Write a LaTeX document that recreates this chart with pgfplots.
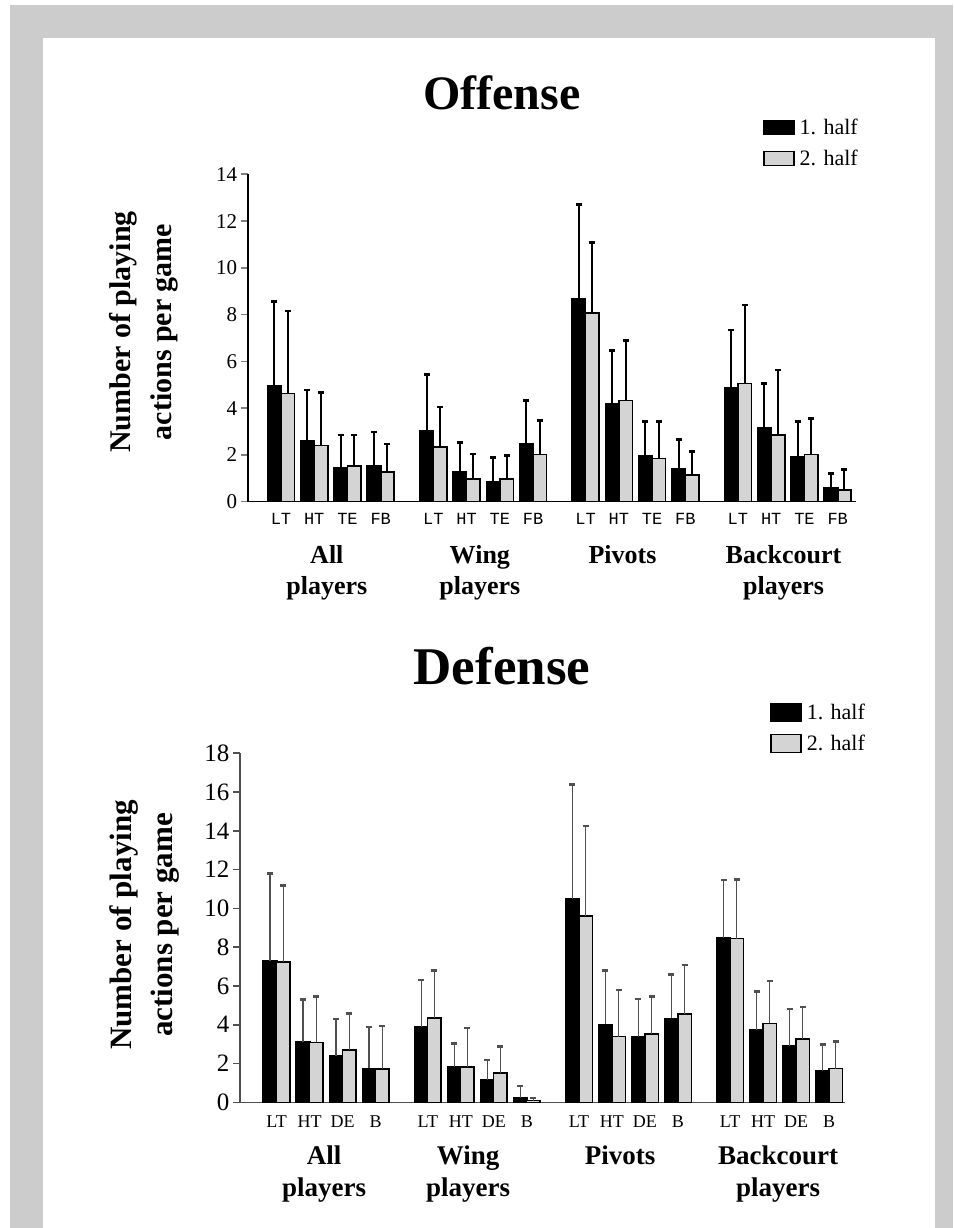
\documentclass[border=0pt]{standalone}
\usepackage{pgfplots}
\pgfplotsset{compat=1.18}
\usepackage{pgfplotstable}
\usepackage{fontspec}
\setmainfont{Liberation Serif}
\newfontfamily\monofont{Liberation Mono}
\definecolor{framegray}{HTML}{CCCCCC}
\definecolor{bargray}{HTML}{D4D4D4}
\definecolor{errgray}{HTML}{505050}

% x: position, y1/e1: 1. half mean / SD, y2/e2: 2. half mean / SD
\pgfplotstableread{
x y1 e1 y2 e2
0 4.95 3.60 4.63 3.53
1 2.61 2.17 2.41 2.27
2 1.47 1.38 1.53 1.32
3 1.53 1.45 1.28 1.19
4.58 3.04 2.39 2.35 1.70
5.58 1.27 1.27 0.96 1.08
6.58 0.83 1.07 0.96 1.02
7.58 2.47 1.85 2.02 1.44
9.16 8.67 4.05 8.06 3.02
10.16 4.18 2.28 4.32 2.57
11.16 1.98 1.44 1.84 1.58
12.16 1.40 1.25 1.14 1.00
13.74 4.89 2.45 5.06 3.35
14.74 3.18 1.88 2.85 2.78
15.74 1.92 1.50 2.02 1.54
16.74 0.58 0.63 0.50 0.88
}\offense

\pgfplotstableread{
x y1 e1 y2 e2
0 7.31 4.50 7.25 3.94
1 3.13 2.18 3.09 2.36
2 2.39 1.91 2.70 1.89
3 1.75 2.12 1.72 2.23
4.58 3.90 2.41 4.35 2.44
5.58 1.81 1.23 1.81 2.01
6.58 1.15 1.03 1.50 1.37
7.58 0.21 0.63 0.09 0.12
9.16 10.49 5.91 9.61 4.64
10.16 4.02 2.77 3.39 2.40
11.16 3.39 1.94 3.52 1.93
12.16 4.33 2.27 4.54 2.54
13.74 8.48 2.99 8.44 3.06
14.74 3.73 1.98 4.07 2.19
15.74 2.92 1.88 3.27 1.63
16.74 1.60 1.39 1.74 1.39
}\defense

\pgfplotsset{
  myaxis/.style={
    scale only axis,
    ybar,
    bar width=13.5pt,
    axis x line*=bottom,
    axis y line*=left,
    axis line style={-, line width=1.6pt},
    ymin=0,
    xtick={0,1,2,3,4.58,5.58,6.58,7.58,9.16,10.16,11.16,12.16,13.74,14.74,15.74,16.74},
    xtick style={draw=none},
    ytick style={line width=1.6pt},
    tick align=outside,
    major tick length=7pt,
    clip=false,
    /pgf/number format/assume math mode=true,
    legend cell align=left,
  },
}

\begin{document}
\begin{tikzpicture}[x=1pt,y=1pt]
\path[use as bounding box] (0,0) rectangle (953,1228);
\fill[white] (0,0) rectangle (953,1228);
\fill[framegray] (10,0) rectangle (953,1223);
\fill[white] (43,0) rectangle (935,1190);

\node[font=\bfseries\fontsize{48}{48}\selectfont] at (502,1135) {Offense};
\node[font=\bfseries\fontsize{53}{53}\selectfont] at (502,562) {Defense};

\node[rotate=90, align=center, font=\bfseries\fontsize{30}{41}\selectfont] at (144,896) {Number of playing\\actions per game};
\node[rotate=90, align=center, font=\bfseries\fontsize{31}{41}\selectfont] at (145,303) {Number of playing\\actions per game};

% ---------------- Offense ----------------
\begin{axis}[myaxis,
  at={(247.7pt,726.3pt)}, anchor=south west,
  width=608.3pt, height=327.4pt,
  xmin=-1.0, xmax=17.29, ymax=14,
  ytick={0,2,...,14},
  xticklabels={LT,HT,TE,FB,LT,HT,TE,FB,LT,HT,TE,FB,LT,HT,TE,FB},
  x tick label style={font=\monofont\fontsize{17}{17}\selectfont, yshift=-1pt},
  y tick label style={font=\fontsize{21}{21}\selectfont},
  legend style={at={(axis description cs:0.847,1.175)}, anchor=north west,
    draw=none, fill=none, inner sep=0pt, row sep=10pt,
    font=\fontsize{22}{22}\selectfont,
    /tikz/every odd column/.append style={column sep=3pt}},
]
\addplot[fill=black, draw=black, line width=1.6pt, bar shift=-6.75pt,
  legend image code/.code={\draw[fill=black,draw=black,line width=1.6pt] (0pt,-7pt) rectangle (30pt,7pt);},
  error bars/.cd, y dir=plus, y explicit,
  error bar style={line width=2pt, black},
  error mark options={rotate=90, line width=2.6pt, mark size=3pt, black}]
  table[x=x, y=y1, y error=e1] {\offense};
\addplot[fill=bargray, draw=black, line width=1.6pt, bar shift=6.75pt,
  legend image code/.code={\draw[fill=bargray,draw=black,line width=1.6pt] (0pt,-7pt) rectangle (30pt,7pt);},
  error bars/.cd, y dir=plus, y explicit,
  error bar style={line width=2pt, black},
  error mark options={rotate=90, line width=2.6pt, mark size=3pt, black}]
  table[x=x, y=y2, y error=e2] {\offense};
\legend{1. half, 2. half}
\begin{scope}[every node/.style={font=\bfseries\fontsize{26}{31}\selectfont, align=center, anchor=north}]
\node at (axis cs:1.38,0) [yshift=-40pt] {All\\players};
\node at (axis cs:5.98,0) [yshift=-40pt] {Wing\\players};
\node at (axis cs:10.27,0) [yshift=-40pt] {Pivots};
\node at (axis cs:15.11,0) [yshift=-40pt] {Backcourt\\players};
\end{scope}
\end{axis}

% ---------------- Defense ----------------
\begin{axis}[myaxis,
  at={(240pt,125.7pt)}, anchor=south west,
  width=605pt, height=349pt,
  xmin=-1.11, xmax=17.22, ymax=18,
  ytick={0,2,...,18},
  axis line style={-, line width=1.6pt, errgray},
  ytick style={line width=1.6pt, errgray},
  xticklabels={LT,HT,DE,B,LT,HT,DE,B,LT,HT,DE,B,LT,HT,DE,B},
  x tick label style={font=\fontsize{18}{18}\selectfont, yshift=-3pt},
  y tick label style={font=\fontsize{25}{25}\selectfont},
  legend style={at={(axis description cs:0.876,1.147)}, anchor=north west,
    draw=none, fill=none, inner sep=0pt, row sep=10pt,
    font=\fontsize{22}{22}\selectfont,
    /tikz/every odd column/.append style={column sep=3pt}},
]
\addplot[fill=black, draw=black, line width=1.6pt, bar shift=-6.6pt,
  legend image code/.code={\draw[fill=black,draw=black,line width=1.6pt] (0pt,-9pt) rectangle (30pt,9pt);},
  error bars/.cd, y dir=plus, y explicit,
  error bar style={line width=1.4pt, errgray},
  error mark options={rotate=90, line width=2.4pt, mark size=3pt, errgray}]
  table[x=x, y=y1, y error=e1] {\defense};
\addplot[fill=bargray, draw=black, line width=1.6pt, bar shift=6.6pt,
  legend image code/.code={\draw[fill=bargray,draw=black,line width=1.6pt] (0pt,-9pt) rectangle (30pt,9pt);},
  error bars/.cd, y dir=plus, y explicit,
  error bar style={line width=1.4pt, errgray},
  error mark options={rotate=90, line width=2.4pt, mark size=3pt, errgray}]
  table[x=x, y=y2, y error=e2] {\defense};
\legend{1. half, 2. half}
\begin{scope}[every node/.style={font=\bfseries\fontsize{27}{32}\selectfont, align=center, anchor=north}]
\node at (axis cs:1.44,0) [yshift=-40pt] {All\\players};
\node at (axis cs:5.80,0) [yshift=-40pt] {Wing\\players};
\node at (axis cs:10.41,0) [yshift=-40pt] {Pivots};
\node at (axis cs:15.19,0) [yshift=-40pt] {Backcourt\\players};
\end{scope}
\end{axis}
\end{tikzpicture}
\end{document}
